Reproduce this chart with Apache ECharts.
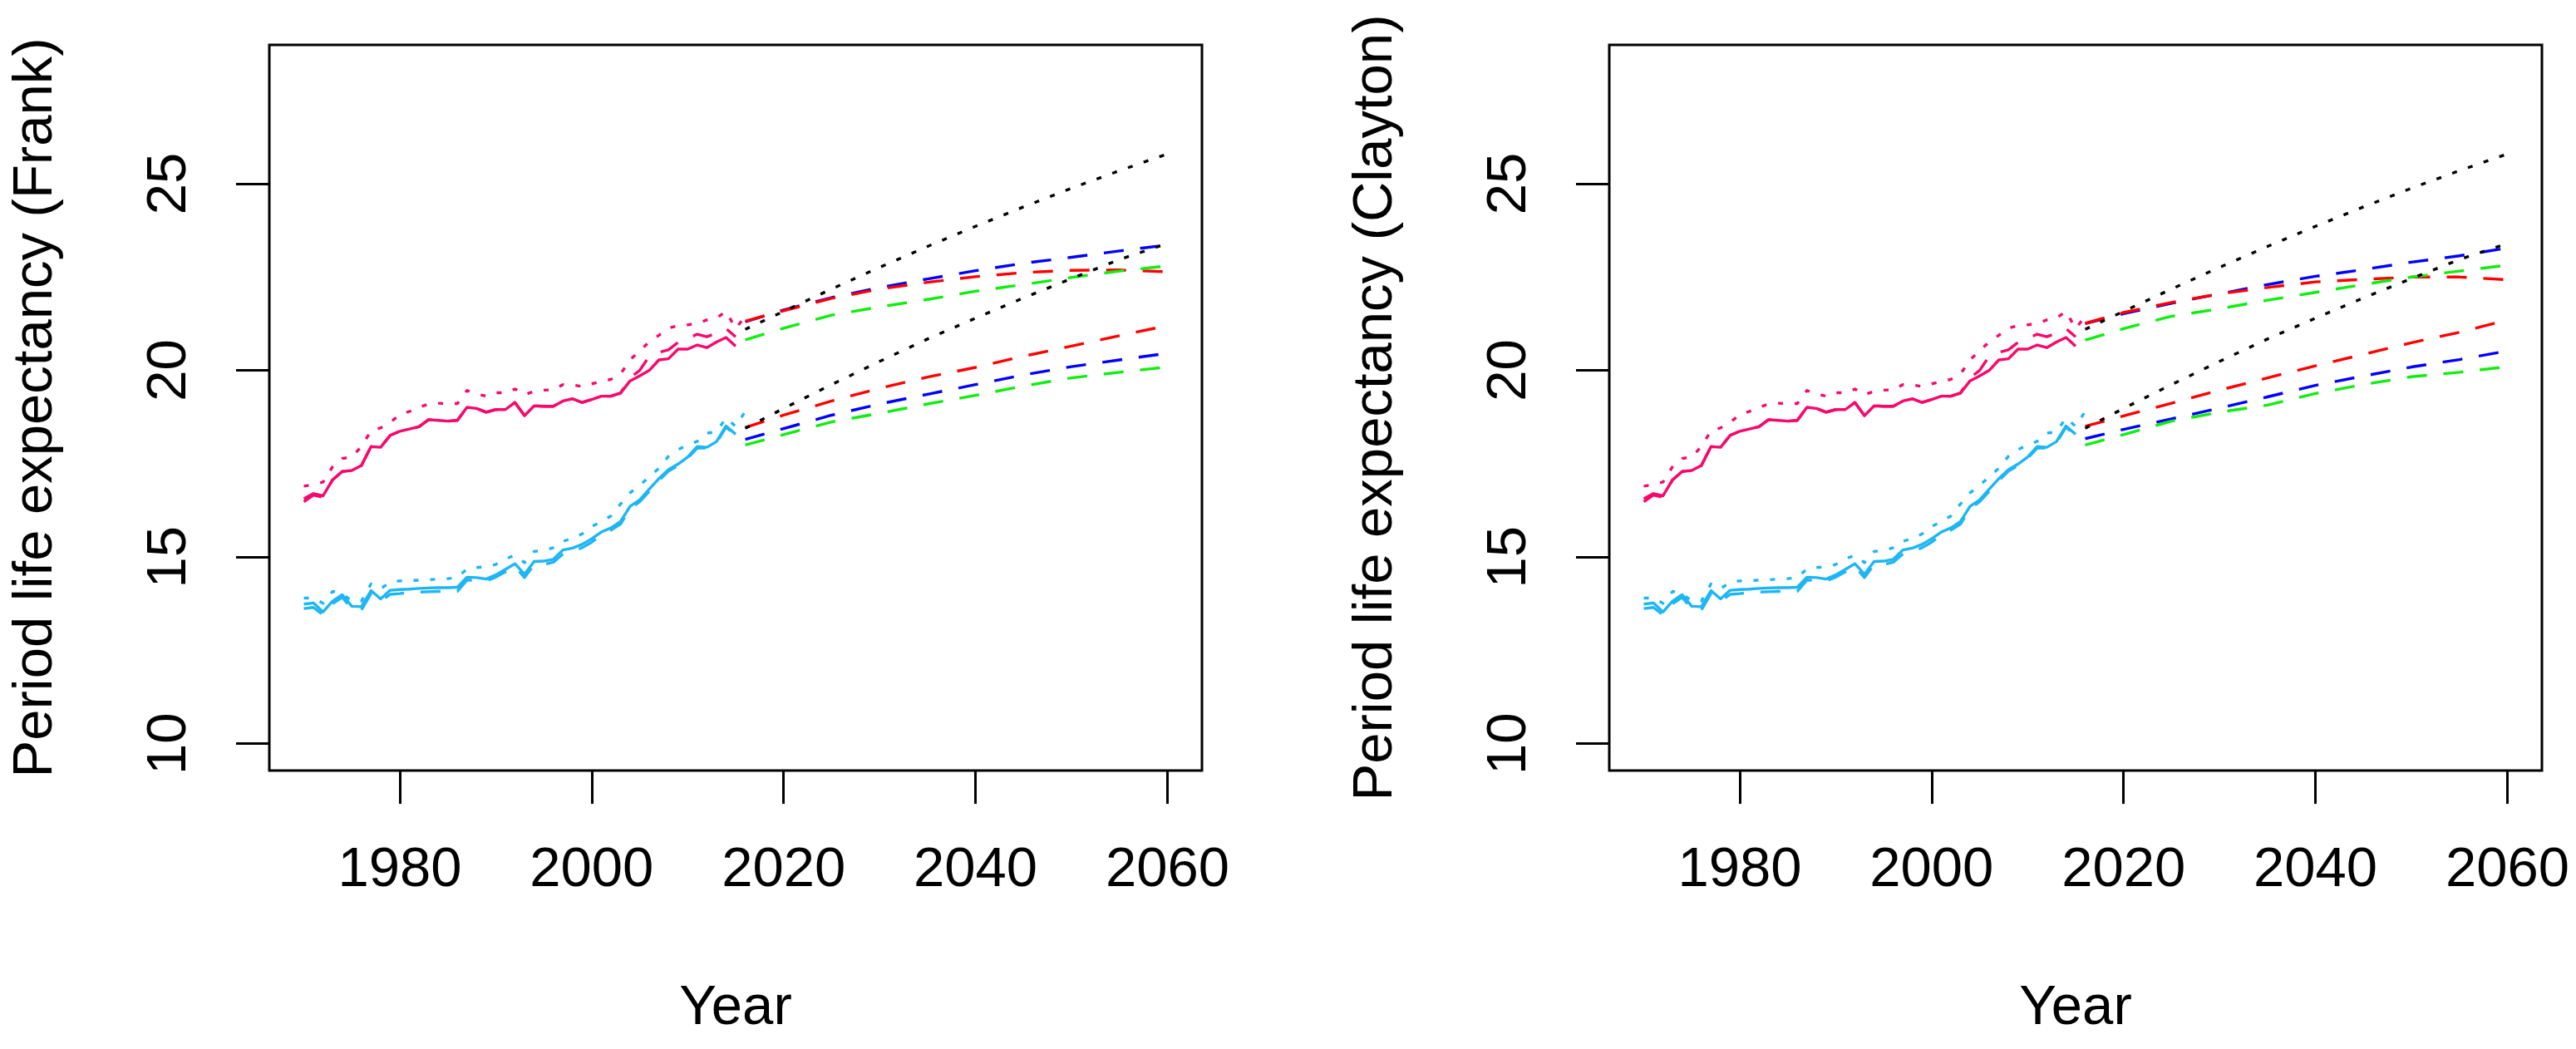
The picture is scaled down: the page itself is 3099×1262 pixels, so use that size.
<!DOCTYPE html>
<html>
<head>
<meta charset="utf-8">
<script src="https://cdn.jsdelivr.net/npm/echarts@6/dist/echarts.min.js"></script>
<style>
html,body{margin:0;padding:0;background:#fff;}
#chart{width:3099px;height:1262px;}
</style>
</head>
<body>
<div id="chart"></div>
<script>
// ---------------- data ----------------
const obsYears = [];   // 1970..2015
for (let y = 1970; y <= 2015; y++) obsYears.push(y);
const altYears = obsYears.concat([2016]); // 1970..2016
const fcYears = [2016, 2020, 2025, 2030, 2035, 2040, 2045, 2050, 2055, 2060];

const xTicks = [1980, 2000, 2020, 2040, 2060];
const yTicks = [10, 15, 20, 25];

// Female (pink) observed lines
const femaleSolid = [16.56,16.70,16.64,17.07,17.29,17.32,17.45,17.96,17.94,18.26,
  18.37,18.43,18.49,18.68,18.66,18.64,18.66,19.01,18.98,18.88,
  18.95,18.95,19.14,18.79,19.05,19.04,19.04,19.18,19.24,19.14,
  19.22,19.31,19.31,19.39,19.72,19.85,20.00,20.28,20.31,20.57,
  20.57,20.68,20.61,20.76,20.88,20.65];
const femaleDashed = [16.48,16.66,16.60,17.07,17.29,17.32,17.45,17.96,17.94,18.26,
  18.37,18.43,18.49,18.68,18.66,18.64,18.66,19.01,18.98,18.88,
  18.95,18.95,19.14,18.79,19.05,19.04,19.04,19.18,19.24,19.14,
  19.22,19.31,19.31,19.39,19.80,20.00,20.38,20.48,20.55,20.75,
  20.85,20.97,20.90,21.00,21.12,20.90];
const femaleDotted = [16.90,16.94,17.01,17.42,17.64,17.68,17.96,18.38,18.46,18.61,
  18.81,18.90,19.01,19.10,19.12,19.11,19.11,19.46,19.37,19.31,
  19.40,19.40,19.50,19.35,19.44,19.47,19.48,19.62,19.61,19.57,
  19.64,19.70,19.76,19.90,20.28,20.53,20.76,20.94,21.13,21.20,
  21.22,21.26,21.35,21.40,21.58,21.12,21.45];

// Male (light blue) observed lines
const maleSolid = [13.74,13.77,13.53,13.82,13.99,13.68,13.67,14.10,13.88,14.11,
  14.13,14.14,14.16,14.17,14.18,14.18,14.19,14.46,14.45,14.41,
  14.52,14.67,14.82,14.54,14.88,14.89,14.94,15.19,15.24,15.34,
  15.49,15.67,15.78,15.95,16.36,16.53,16.82,17.10,17.34,17.49,
  17.68,17.96,17.94,18.09,18.51,18.29];
const maleDashed = [13.62,13.65,13.45,13.75,13.92,13.60,13.58,14.02,13.82,14.00,
  14.02,14.05,14.06,14.07,14.08,14.08,14.08,14.38,14.38,14.36,
  14.46,14.60,14.75,14.45,14.80,14.80,14.86,15.08,15.15,15.25,
  15.40,15.60,15.72,15.88,16.30,16.48,16.76,17.05,17.30,17.45,
  17.65,17.92,17.92,18.06,18.48,18.26];
const maleDotted = [13.90,13.90,13.76,14.08,14.02,13.82,13.82,14.28,14.15,14.33,
  14.36,14.37,14.38,14.39,14.41,14.42,14.45,14.68,14.72,14.74,
  14.80,14.95,15.05,14.85,15.15,15.17,15.25,15.42,15.50,15.62,
  15.82,15.95,16.10,16.42,16.72,16.92,17.15,17.38,17.70,17.88,
  18.00,18.10,18.32,18.35,18.73,18.50,18.90];

// Forecasts: black dotted (same in both panels)
const femaleBlack = [21.10,21.58,22.18,22.76,23.32,23.86,24.38,24.88,25.35,25.80];
const maleBlack   = [18.45,18.98,19.62,20.24,20.84,21.40,21.94,22.46,22.97,23.40];

// Frank panel forecasts
const frankFemaleRed   = [21.32,21.60,21.93,22.18,22.36,22.51,22.62,22.68,22.69,22.64];
const frankFemaleBlue  = [21.30,21.62,21.95,22.22,22.45,22.67,22.87,23.03,23.20,23.36];
const frankFemaleGreen = [20.82,21.13,21.48,21.70,21.90,22.12,22.30,22.49,22.66,22.80];
const frankMaleRed     = [18.47,18.80,19.18,19.52,19.82,20.08,20.38,20.65,20.93,21.20];
const frankMaleBlue    = [18.15,18.44,18.80,19.10,19.36,19.62,19.88,20.10,20.28,20.46];
const frankMaleGreen   = [18.00,18.28,18.62,18.85,19.10,19.33,19.58,19.80,19.95,20.09];

// Clayton panel forecasts
const claytonFemaleRed   = [21.26,21.55,21.82,22.05,22.22,22.37,22.44,22.50,22.50,22.43];
const claytonFemaleBlue  = [21.25,21.52,21.80,22.05,22.30,22.52,22.70,22.90,23.07,23.28];
const claytonFemaleGreen = [20.81,21.12,21.45,21.65,21.88,22.09,22.30,22.50,22.66,22.82];
const claytonMaleRed     = [18.50,18.78,19.12,19.47,19.80,20.12,20.43,20.74,21.02,21.35];
const claytonMaleBlue    = [18.17,18.42,18.70,18.99,19.29,19.60,19.85,20.09,20.29,20.52];
const claytonMaleGreen   = [18.00,18.28,18.64,18.88,19.07,19.38,19.62,19.83,19.95,20.10];

const yLabels = ['Period life expectancy (Frank)', 'Period life expectancy (Clayton)'];
const xLabel = 'Year';

// ---------------- styles ----------------
const FONT = "'Liberation Sans', Arial, Helvetica, sans-serif";
const PINK = '#F8086C', CYAN = '#1DB6F4', RED = '#FF0000', BLUE = '#0000FF', GREEN = '#10EE10', BLACK = '#000000';
const DASH = [24, 20], DOT = [6, 14];
const LW = 3.4;
const grids = [
  {left: 324, top: 54, width: 1122, height: 873},
  {left: 1936, top: 54, width: 1122, height: 873}
];

function pairs(xs, ys) { return ys.map((v, i) => [xs[i], v]); }
function mk(gi, xs, ys, color, type) {
  return {
    type: 'line', xAxisIndex: gi, yAxisIndex: gi, data: pairs(xs, ys),
    symbol: 'none', silent: true, animation: false, clip: true,
    lineStyle: {color: color, width: LW, type: type, cap: 'butt', join: 'round'}
  };
}

const series = [];
const panels = [
  {fr: frankFemaleRed, fb: frankFemaleBlue, fg: frankFemaleGreen, mr: frankMaleRed, mb: frankMaleBlue, mg: frankMaleGreen},
  {fr: claytonFemaleRed, fb: claytonFemaleBlue, fg: claytonFemaleGreen, mr: claytonMaleRed, mb: claytonMaleBlue, mg: claytonMaleGreen}
];
panels.forEach((p, gi) => {
  series.push(mk(gi, obsYears, femaleDashed, PINK, DASH));
  series.push(mk(gi, altYears, femaleDotted, PINK, DOT));
  series.push(mk(gi, obsYears, femaleSolid, PINK, 'solid'));
  series.push(mk(gi, obsYears, maleDashed, CYAN, DASH));
  series.push(mk(gi, altYears, maleDotted, CYAN, DOT));
  series.push(mk(gi, obsYears, maleSolid, CYAN, 'solid'));
  series.push(mk(gi, fcYears, p.fb, BLUE, DASH));
  series.push(mk(gi, fcYears, p.fr, RED, DASH));
  series.push(mk(gi, fcYears, p.fg, GREEN, DASH));
  series.push(mk(gi, fcYears, p.mb, BLUE, DASH));
  series.push(mk(gi, fcYears, p.mr, RED, DASH));
  series.push(mk(gi, fcYears, p.mg, GREEN, DASH));
  series.push(mk(gi, fcYears, femaleBlack, BLACK, DOT));
  series.push(mk(gi, fcYears, maleBlack, BLACK, DOT));
});

const xAxes = grids.map((g, gi) => ({
  gridIndex: gi, type: 'value', min: 1966.4, max: 2063.6,
  axisLine: {show: false}, splitLine: {show: false},
  axisTick: {show: true, inside: false, length: 40, customValues: xTicks,
             lineStyle: {color: '#000', width: 3}},
  axisLabel: {show: true, customValues: xTicks, margin: 87, fontSize: 67, color: '#000',
              fontFamily: FONT, formatter: v => String(v)}
}));
const yAxes = grids.map((g, gi) => ({
  gridIndex: gi, type: 'value', min: 9.28, max: 28.72,
  axisLine: {show: false}, splitLine: {show: false},
  axisTick: {show: true, inside: false, length: 40, customValues: yTicks,
             lineStyle: {color: '#000', width: 3}},
  axisLabel: {show: true, customValues: yTicks, rotate: 90, margin: 86, fontSize: 67, color: '#000',
              fontFamily: FONT, formatter: v => String(v)}
}));

const graphics = [];
grids.forEach((g, gi) => {
  graphics.push({type: 'text', x: g.left - 280, y: g.top + g.height / 2, rotation: Math.PI / 2,
    style: {text: yLabels[gi], fontSize: 67, fontFamily: FONT, fill: '#000', align: 'center', verticalAlign: 'middle'}});
  graphics.push({type: 'text', x: g.left + g.width / 2, y: 1214,
    style: {text: xLabel, fontSize: 67, fontFamily: FONT, fill: '#000', align: 'center', verticalAlign: 'middle'}});
});

const chart = echarts.init(document.getElementById('chart'), null, {renderer: 'canvas', width: 3099, height: 1262});
chart.setOption({
  backgroundColor: '#fff',
  animation: false,
  grid: grids.map(g => Object.assign({show: true, borderColor: '#000', borderWidth: 3, backgroundColor: 'transparent', containLabel: false}, g)),
  xAxis: xAxes,
  yAxis: yAxes,
  series: series,
  graphic: graphics
});
</script>
</body>
</html>
